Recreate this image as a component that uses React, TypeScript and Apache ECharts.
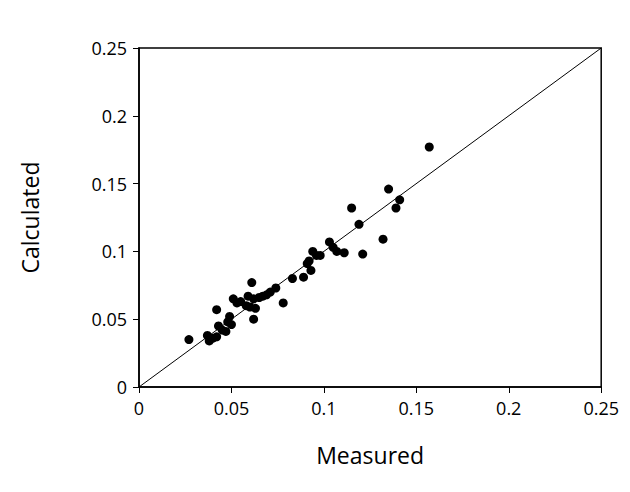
import { useEffect, useRef } from 'react';
import * as echarts from 'echarts';

const measured = [0.027, 0.037, 0.038, 0.040, 0.042, 0.042, 0.043, 0.045, 0.047, 0.048, 0.049, 0.050, 0.051, 0.053, 0.055, 0.058, 0.059, 0.060, 0.061, 0.062, 0.062, 0.063, 0.065, 0.067, 0.069, 0.071, 0.074, 0.078, 0.083, 0.089, 0.091, 0.092, 0.093, 0.094, 0.096, 0.098, 0.103, 0.105, 0.107, 0.111, 0.115, 0.119, 0.121, 0.132, 0.135, 0.139, 0.141, 0.157];
const calculated = [0.035, 0.038, 0.034, 0.036, 0.037, 0.057, 0.045, 0.042, 0.041, 0.048, 0.052, 0.046, 0.065, 0.062, 0.063, 0.060, 0.067, 0.059, 0.077, 0.050, 0.065, 0.058, 0.066, 0.067, 0.068, 0.070, 0.073, 0.062, 0.080, 0.081, 0.091, 0.093, 0.086, 0.100, 0.097, 0.097, 0.107, 0.103, 0.100, 0.099, 0.132, 0.120, 0.098, 0.109, 0.146, 0.132, 0.138, 0.177];
const ticks = [0, 0.05, 0.1, 0.15, 0.2, 0.25];

export default function App() {
  const chartRef = useRef<HTMLDivElement>(null);

  useEffect(() => {
    if (!chartRef.current) return;
    const chart = echarts.init(chartRef.current, null, { renderer: 'svg' });
    const font = 'Open Sans, sans-serif';
    const axis = (name: string, gap: number) => ({
      type: 'value' as const,
      min: 0,
      max: 0.25,
      interval: 0.05,
      name,
      nameLocation: 'middle' as const,
      nameGap: gap,
      nameTextStyle: { fontSize: 23, color: '#000', fontFamily: font },
      axisLine: { show: true, lineStyle: { color: '#000', width: 1.5 } },
      axisTick: { show: true, inside: false, length: 6, lineStyle: { color: '#000' } },
      axisLabel: {
        fontSize: 18,
        margin: 12,
        color: '#000',
        fontFamily: font,
        formatter: (v: number) => String(ticks.find(t => Math.abs(t - v) < 1e-9) ?? v),
      },
      splitLine: { show: false },
    });
    chart.setOption({
      animation: false,
      grid: { left: 131, top: 40, width: 464, height: 339, show: true, borderColor: '#000', borderWidth: 1.5 },
      xAxis: axis('Measured', 56),
      yAxis: axis('Calculated', 98),
      series: [
        {
          type: 'line',
          data: [[0, 0], [0.25, 0.25]],
          symbol: 'none',
          lineStyle: { color: '#000', width: 1 },
        },
        {
          type: 'scatter',
          data: measured.map((m, i) => [m, calculated[i]]),
          symbolSize: 9,
          itemStyle: { color: '#000', opacity: 1 },
        },
      ],
    });
    return () => chart.dispose();
  }, []);

  return <div ref={chartRef} style={{ width: 614, height: 476 }} />;
}
